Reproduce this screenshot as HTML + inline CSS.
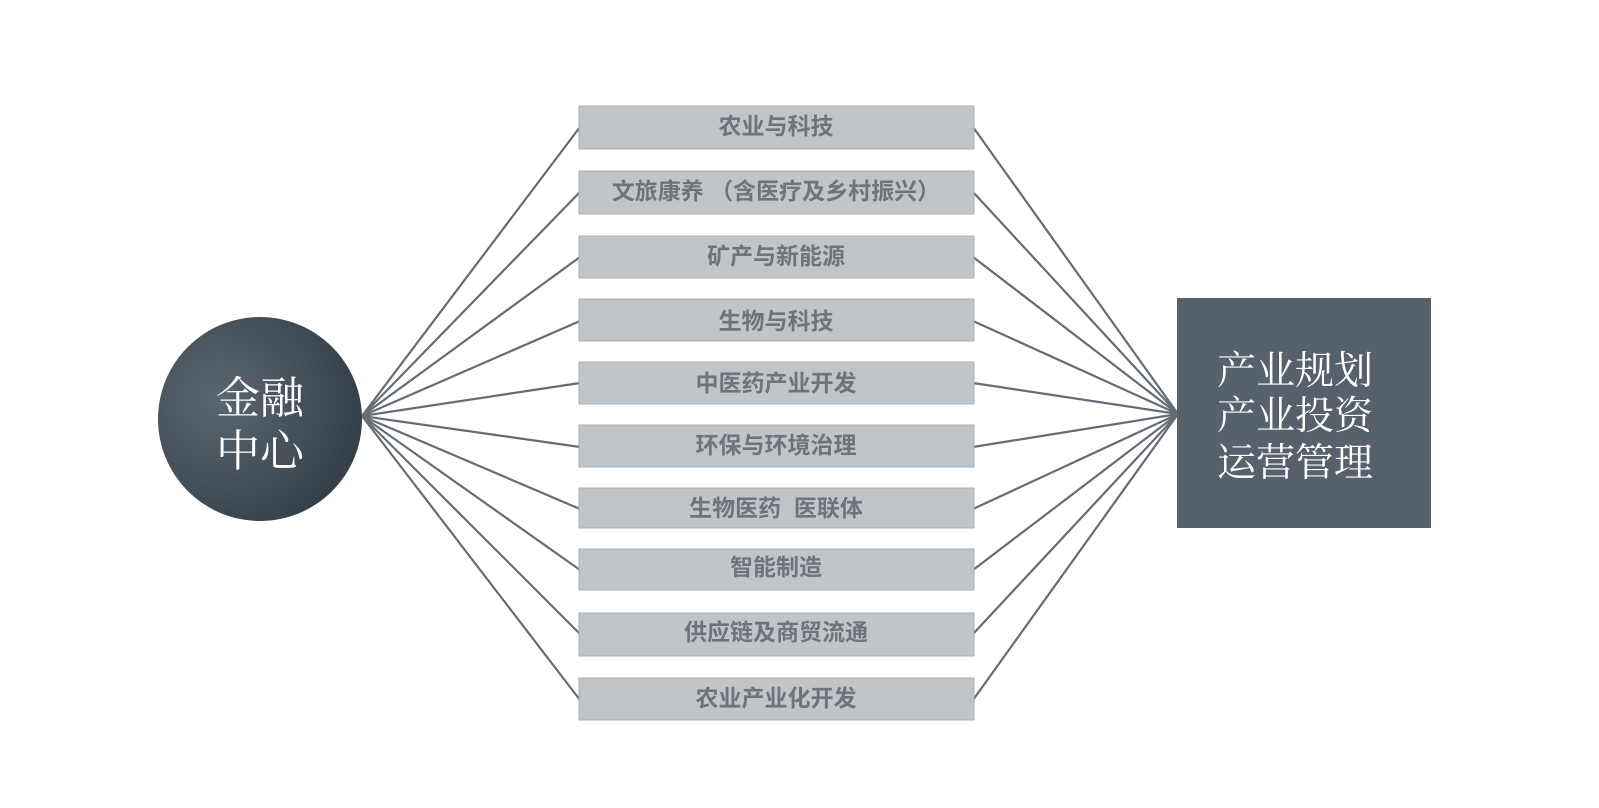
<!DOCTYPE html>
<html><head><meta charset="utf-8"><style>
html,body{margin:0;padding:0;background:#fff;}
svg{display:block;}
.b{fill:#c0c5c9;stroke:#aab0b5;stroke-width:1;}
.t{font-family:"Liberation Sans","Noto Sans CJK SC",sans-serif;font-weight:bold;font-size:23px;fill:#6e747a;text-anchor:middle;}
.w{font-family:"Liberation Serif","Noto Serif CJK SC",serif;fill:#fff;}
line{stroke:#666c74;stroke-width:2.2;}
</style></head><body>
<svg width="1599" height="808" viewBox="0 0 1599 808">
<defs>
<radialGradient id="g" cx="0.3" cy="0.4" r="0.8">
<stop offset="0" stop-color="#5b6670"/>
<stop offset="1" stop-color="#313b44"/>
</radialGradient>
</defs>
<g>
<line x1="362" y1="416" x2="580" y2="127"/>
<line x1="362" y1="416" x2="580" y2="192"/>
<line x1="362" y1="416" x2="580" y2="257"/>
<line x1="362" y1="416" x2="580" y2="321"/>
<line x1="362" y1="416" x2="580" y2="383"/>
<line x1="362" y1="416" x2="580" y2="447"/>
<line x1="362" y1="416" x2="580" y2="509"/>
<line x1="362" y1="416" x2="580" y2="570"/>
<line x1="362" y1="416" x2="580" y2="634"/>
<line x1="362" y1="416" x2="580" y2="700"/>
<line x1="1178" y1="414" x2="973" y2="127"/>
<line x1="1178" y1="414" x2="973" y2="192"/>
<line x1="1178" y1="414" x2="973" y2="257"/>
<line x1="1178" y1="414" x2="973" y2="321"/>
<line x1="1178" y1="414" x2="973" y2="383"/>
<line x1="1178" y1="414" x2="973" y2="447"/>
<line x1="1178" y1="414" x2="973" y2="509"/>
<line x1="1178" y1="414" x2="973" y2="570"/>
<line x1="1178" y1="414" x2="973" y2="634"/>
<line x1="1178" y1="414" x2="973" y2="700"/>
</g>
<rect class="b" x="579" y="106" width="395" height="43"/>
<rect class="b" x="579" y="171" width="395" height="43"/>
<rect class="b" x="579" y="236" width="395" height="42"/>
<rect class="b" x="579" y="299" width="395" height="42"/>
<rect class="b" x="579" y="362" width="395" height="42"/>
<rect class="b" x="579" y="425" width="395" height="42"/>
<rect class="b" x="579" y="488" width="395" height="40"/>
<rect class="b" x="579" y="549" width="395" height="41"/>
<rect class="b" x="579" y="613" width="395" height="43"/>
<rect class="b" x="579" y="678" width="395" height="42"/>
<text class="t" x="776" y="134">农业与科技</text>
<text class="t" x="776" y="199">文旅康养 （含医疗及乡村振兴）</text>
<text class="t" x="776" y="264">矿产与新能源</text>
<text class="t" x="776" y="329">生物与科技</text>
<text class="t" x="776" y="391">中医药产业开发</text>
<text class="t" x="776" y="453">环保与环境治理</text>
<text class="t" x="776" y="516" xml:space="preserve">生物医药  医联体</text>
<text class="t" x="776" y="575">智能制造</text>
<text class="t" x="776" y="640">供应链及商贸流通</text>
<text class="t" x="776" y="706">农业产业化开发</text>
<circle cx="260" cy="419" r="102" fill="url(#g)"/>
<text class="w" x="260" y="413" font-size="44" text-anchor="middle">金融</text>
<text class="w" x="260" y="466" font-size="44" text-anchor="middle">中心</text>
<rect x="1177" y="298" width="254" height="230" fill="#56616b"/>
<text class="w" x="1295" y="384" font-size="39" text-anchor="middle">产业规划</text>
<text class="w" x="1295" y="429" font-size="39" text-anchor="middle">产业投资</text>
<text class="w" x="1295" y="476" font-size="39" text-anchor="middle">运营管理</text>
</svg>
</body></html>
